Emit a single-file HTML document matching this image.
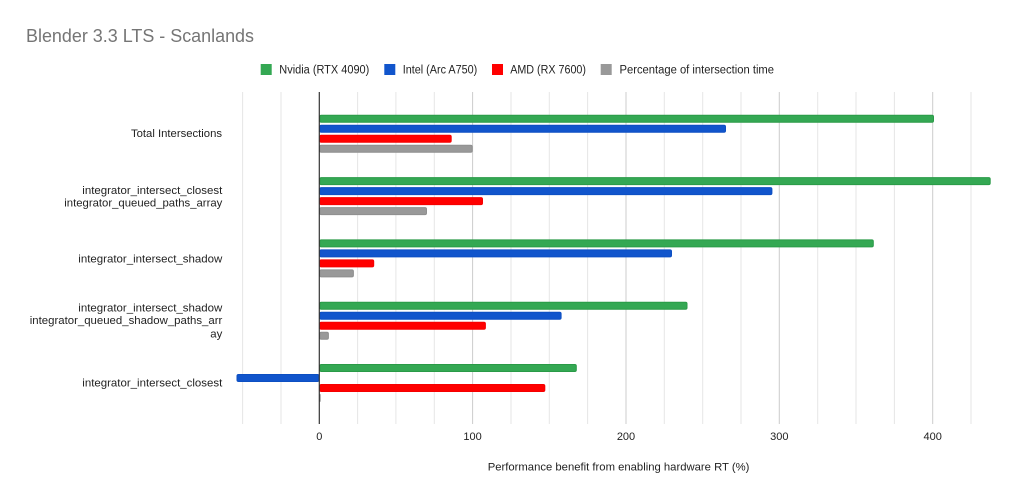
<!DOCTYPE html>
<html>
<head>
<meta charset="utf-8">
<style>
  html, body { margin: 0; padding: 0; background: #ffffff; }
  body { width: 1035px; height: 496px; overflow: hidden; }
  svg { display: block; font-family: "Liberation Sans", Arial, sans-serif; }
</style>
</head>
<body>
<svg width="1035" height="496" viewBox="0 0 1035 496" xmlns="http://www.w3.org/2000/svg">
  <rect x="0" y="0" width="1035" height="496" fill="#ffffff"/>

  <!-- Title -->
  <text x="26" y="42" font-size="18.5" fill="#757575" textLength="228" lengthAdjust="spacingAndGlyphs">Blender 3.3 LTS - Scanlands</text>

  <!-- Legend -->
  <rect x="260.7" y="64" width="11" height="11" fill="#34a853"/>
  <text x="279.3" y="73.5" font-size="11.5" fill="#222222" textLength="90" lengthAdjust="spacingAndGlyphs">Nvidia (RTX 4090)</text>
  <rect x="384.3" y="64" width="11" height="11" fill="#1155cc"/>
  <text x="402.7" y="73.5" font-size="11.5" fill="#222222" textLength="74.6" lengthAdjust="spacingAndGlyphs">Intel (Arc A750)</text>
  <rect x="492" y="64" width="11" height="11" fill="#ff0000"/>
  <text x="510.2" y="73.5" font-size="11.5" fill="#222222" textLength="75.8" lengthAdjust="spacingAndGlyphs">AMD (RX 7600)</text>
  <rect x="600.7" y="64" width="11" height="11" fill="#999999"/>
  <text x="619.5" y="73.5" font-size="11.5" fill="#222222" textLength="154.5" lengthAdjust="spacingAndGlyphs">Percentage of intersection time</text>

  <!-- Gridlines: minor every 25, major every 100 -->
  <g stroke-width="1">
    <line x1="242.6" y1="92" x2="242.6" y2="424" stroke="#e6e6e6"/>
    <line x1="281.0" y1="92" x2="281.0" y2="424" stroke="#e6e6e6"/>
    <line x1="357.6" y1="92" x2="357.6" y2="424" stroke="#e6e6e6"/>
    <line x1="395.9" y1="92" x2="395.9" y2="424" stroke="#e6e6e6"/>
    <line x1="434.3" y1="92" x2="434.3" y2="424" stroke="#e6e6e6"/>
    <line x1="472.6" y1="92" x2="472.6" y2="424" stroke="#cccccc"/>
    <line x1="511.0" y1="92" x2="511.0" y2="424" stroke="#e6e6e6"/>
    <line x1="549.3" y1="92" x2="549.3" y2="424" stroke="#e6e6e6"/>
    <line x1="587.6" y1="92" x2="587.6" y2="424" stroke="#e6e6e6"/>
    <line x1="626.0" y1="92" x2="626.0" y2="424" stroke="#cccccc"/>
    <line x1="664.3" y1="92" x2="664.3" y2="424" stroke="#e6e6e6"/>
    <line x1="702.7" y1="92" x2="702.7" y2="424" stroke="#e6e6e6"/>
    <line x1="741.0" y1="92" x2="741.0" y2="424" stroke="#e6e6e6"/>
    <line x1="779.3" y1="92" x2="779.3" y2="424" stroke="#cccccc"/>
    <line x1="817.7" y1="92" x2="817.7" y2="424" stroke="#e6e6e6"/>
    <line x1="856.0" y1="92" x2="856.0" y2="424" stroke="#e6e6e6"/>
    <line x1="894.4" y1="92" x2="894.4" y2="424" stroke="#e6e6e6"/>
    <line x1="932.7" y1="92" x2="932.7" y2="424" stroke="#cccccc"/>
    <line x1="971.0" y1="92" x2="971.0" y2="424" stroke="#e6e6e6"/>
  </g>

  <!-- Bars -->
  <g stroke-width="1">
    <!-- Group 1: Total Intersections -->
    <rect x="319.8" y="115.3" width="613.7" height="7" rx="1.5" fill="#34a853" stroke="#2a9a47"/>
    <rect x="319.8" y="125.3" width="405.7" height="7" rx="1.5" fill="#1155cc" stroke="#0d4fc2"/>
    <rect x="319.8" y="135.3" width="131.4" height="7" rx="1.5" fill="#ff0000" stroke="#f50000"/>
    <rect x="319.8" y="145.3" width="152.4" height="7" rx="1.5" fill="#999999" stroke="#8f8f8f"/>

    <!-- Group 2 -->
    <rect x="319.8" y="177.6" width="670.4" height="7" rx="1.5" fill="#34a853" stroke="#2a9a47"/>
    <rect x="319.8" y="187.6" width="452.1" height="7" rx="1.5" fill="#1155cc" stroke="#0d4fc2"/>
    <rect x="319.8" y="197.6" width="162.7" height="7" rx="1.5" fill="#ff0000" stroke="#f50000"/>
    <rect x="319.8" y="207.6" width="106.7" height="7" rx="1.5" fill="#999999" stroke="#8f8f8f"/>

    <!-- Group 3 -->
    <rect x="319.8" y="239.9" width="553.5" height="7" rx="1.5" fill="#34a853" stroke="#2a9a47"/>
    <rect x="319.8" y="249.9" width="351.7" height="7" rx="1.5" fill="#1155cc" stroke="#0d4fc2"/>
    <rect x="319.8" y="259.9" width="53.9" height="7" rx="1.5" fill="#ff0000" stroke="#f50000"/>
    <rect x="319.8" y="269.9" width="33.6" height="7" rx="1.5" fill="#999999" stroke="#8f8f8f"/>

    <!-- Group 4 -->
    <rect x="319.8" y="302.2" width="367.2" height="7" rx="1.5" fill="#34a853" stroke="#2a9a47"/>
    <rect x="319.8" y="312.2" width="241.3" height="7" rx="1.5" fill="#1155cc" stroke="#0d4fc2"/>
    <rect x="319.8" y="322.2" width="165.6" height="7" rx="1.5" fill="#ff0000" stroke="#f50000"/>
    <rect x="319.8" y="332.2" width="8.6" height="7" rx="1.5" fill="#999999" stroke="#8f8f8f"/>

    <!-- Group 5 -->
    <rect x="319.8" y="364.5" width="256.5" height="7" rx="1.5" fill="#34a853" stroke="#2a9a47"/>
    <rect x="237.0" y="374.5" width="82.0" height="7" rx="1.5" fill="#1155cc" stroke="#0d4fc2"/>
    <rect x="319.8" y="384.5" width="225.0" height="7" rx="1.5" fill="#ff0000" stroke="#f50000"/>
    <rect x="319.5" y="394.2" width="1.2" height="7.5" fill="#999999"/>
  </g>

  <!-- Zero baseline -->
  <line x1="319.3" y1="92" x2="319.3" y2="424" stroke="#333333" stroke-width="1.2"/>

  <!-- Category labels -->
  <g font-size="11.4" fill="#222222" text-anchor="end">
    <text x="222" y="137" textLength="91" lengthAdjust="spacingAndGlyphs">Total Intersections</text>
    <text x="222.3" y="194" textLength="140" lengthAdjust="spacingAndGlyphs">integrator_intersect_closest</text>
    <text x="222.3" y="206.7" textLength="158" lengthAdjust="spacingAndGlyphs">integrator_queued_paths_array</text>
    <text x="222.3" y="262.3" textLength="144" lengthAdjust="spacingAndGlyphs">integrator_intersect_shadow</text>
    <text x="222.3" y="311.3" textLength="144" lengthAdjust="spacingAndGlyphs">integrator_intersect_shadow</text>
    <text x="222.3" y="324">integrator_queued_shadow_paths_arr</text>
    <text x="222.3" y="337.3">ay</text>
    <text x="222.3" y="386.3" textLength="140" lengthAdjust="spacingAndGlyphs">integrator_intersect_closest</text>
  </g>

  <!-- Tick labels -->
  <g font-size="11" fill="#222222" text-anchor="middle">
    <text x="319.3" y="440">0</text>
    <text x="472.6" y="440">100</text>
    <text x="626.0" y="440">200</text>
    <text x="779.3" y="440">300</text>
    <text x="932.7" y="440">400</text>
  </g>

  <!-- X axis title -->
  <text x="487.7" y="470.5" font-size="11.4" fill="#222222" textLength="261.7" lengthAdjust="spacingAndGlyphs">Performance benefit from enabling hardware RT (%)</text>
</svg>
</body>
</html>
